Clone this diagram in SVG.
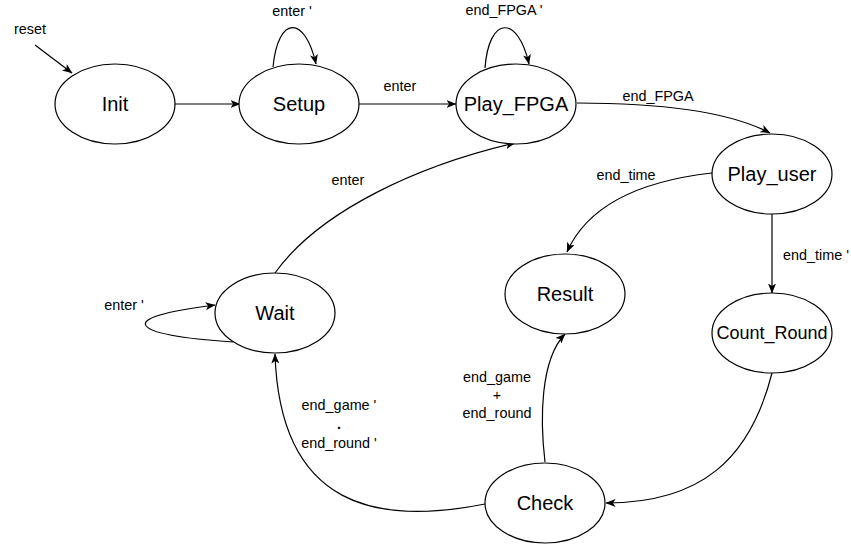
<svg xmlns="http://www.w3.org/2000/svg" width="851" height="545" viewBox="0 0 851 545">
<defs>
<marker id="arr" markerUnits="userSpaceOnUse" viewBox="0 0 10 8" markerWidth="10" markerHeight="8" refX="9.5" refY="4" orient="auto">
<path d="M0,0 L10,4 L0,8 L2.5,4 Z" fill="#000"/>
</marker>
<style>
.n ellipse{fill:#fff;stroke:#000;stroke-width:1.2}
.n text{font-family:"Liberation Sans",Arial,sans-serif;font-size:20px;fill:#000;text-anchor:middle;dominant-baseline:central}
.e path{fill:none;stroke:#000;stroke-width:1.2;marker-end:url(#arr)}
.l text{font-family:"Liberation Sans",Arial,sans-serif;font-size:14.4px;fill:#000;text-anchor:middle;dominant-baseline:central}
</style>
</defs>
<rect width="851" height="545" fill="#fff"/>
<g id="connectors" class="e">
<path d="M35,45 L72,73"/>
<path d="M175,104 L240,104"/>
<path d="M273,67 C278,15 305,15 316,64"/>
<path d="M359,104 L456,104"/>
<path d="M485,68 C489,15 518,15 529,64"/>
<path d="M577,103 C660,103 730,112 770,133"/>
<path d="M712,173 C650,180 590,200 567,252"/>
<path d="M772,214 L772,293"/>
<path d="M772,373 C750,460 700,503 606,503"/>
<path d="M545,462 C540,420 540,360 565,334"/>
<path d="M485,504 C380,525 280,510 275,354"/>
<path d="M233,342 C130,335 110,318 215,305"/>
<path d="M275,273 C320,210 420,165 515,143"/>
</g>
<g id="labels" class="l">
<text x="30" y="29">reset</text>
<text x="292" y="11">enter '</text>
<text x="400" y="86">enter</text>
<text x="504" y="10">end_FPGA '</text>
<text x="658" y="96">end_FPGA</text>
<text x="626" y="175">end_time</text>
<text x="816" y="255">end_time '</text>
<text x="124" y="305">enter '</text>
<text x="348" y="180">enter</text>
<text x="339" y="405">end_game '</text>
<text x="339" y="424" style="font-weight:bold">.</text>
<text x="339" y="443">end_round '</text>
<text x="497" y="377">end_game</text>
<text x="497" y="395">+</text>
<text x="497" y="413">end_round</text>
</g>
<g id="Init" class="n"><ellipse cx="115" cy="104" rx="60" ry="40"/><text x="115" y="104">Init</text></g>
<g id="Setup" class="n"><ellipse cx="299" cy="104" rx="60" ry="40"/><text x="299" y="104">Setup</text></g>
<g id="Play_FPGA" class="n"><ellipse cx="516" cy="104" rx="60" ry="40"/><text x="516" y="104">Play_FPGA</text></g>
<g id="Play_user" class="n"><ellipse cx="772" cy="174" rx="60" ry="40"/><text x="772" y="174">Play_user</text></g>
<g id="Result" class="n"><ellipse cx="565" cy="294" rx="60" ry="40"/><text x="565" y="294">Result</text></g>
<g id="Count_Round" class="n"><ellipse cx="772" cy="333" rx="60" ry="40"/><text x="772" y="333" style="font-size:18px">Count_Round</text></g>
<g id="Wait" class="n"><ellipse cx="275" cy="313" rx="60" ry="40"/><text x="275" y="313">Wait</text></g>
<g id="Check" class="n"><ellipse cx="545" cy="503" rx="60" ry="40"/><text x="545" y="503">Check</text></g>
</svg>
